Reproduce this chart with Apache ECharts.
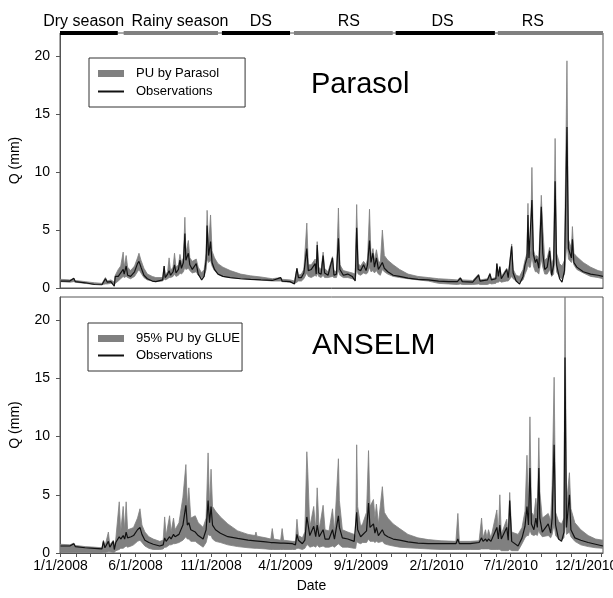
<!DOCTYPE html>
<html><head><meta charset="utf-8">
<script src="https://cdn.jsdelivr.net/npm/echarts@6/dist/echarts.min.js"></script>
<style>html,body{margin:0;padding:0;background:#fff}#c{width:613px;height:598px}</style>
</head><body><div id="c"></div>
<script>
// ---------- data ----------
const seasonNames = ['Dry season','Rainy season','DS','RS','DS','RS'];
const seasonKinds = ['dry','rainy','dry','rainy','dry','rainy'];
const seasonStart = ['2007-12-31','2008-05-08','2008-11-23','2009-04-18','2009-11-10','2010-06-05'];
const seasonEnd   = ['2008-04-26','2008-11-15','2009-04-10','2009-11-04','2010-05-30','2011-01-04'];
const seasonLabelAt = ['2008-02-17','2008-08-30','2009-02-10','2009-08-07','2010-02-13','2010-08-15'];

const yTickValues = [0,5,10,15,20];
const xLabelDates = ['2008-01-01','2008-06-01','2008-11-01','2009-04-01','2009-09-01','2010-02-01','2010-07-01','2010-12-01'];

const parasolDates = [
'2008-01-01','2008-01-20','2008-01-28','2008-01-31','2008-02-20','2008-03-10','2008-03-25','2008-04-01','2008-04-05','2008-04-12',
'2008-04-19','2008-04-21','2008-04-27','2008-05-02','2008-05-07','2008-05-09','2008-05-13','2008-05-16','2008-05-22','2008-05-30',
'2008-06-05','2008-06-08','2008-06-12','2008-06-18','2008-06-25','2008-07-05','2008-07-12','2008-07-26','2008-07-29','2008-07-31',
'2008-08-05','2008-08-08','2008-08-11','2008-08-16','2008-08-19','2008-08-22','2008-08-27','2008-08-30','2008-09-02','2008-09-06',
'2008-09-09','2008-09-11','2008-09-16','2008-09-19','2008-09-24','2008-10-02','2008-10-06','2008-10-13','2008-10-18','2008-10-22',
'2008-10-24','2008-10-27','2008-10-31','2008-11-03','2008-11-08','2008-11-15','2008-11-25','2008-12-10','2008-12-31','2009-01-20',
'2009-02-10','2009-03-05','2009-03-22','2009-03-25','2009-04-10','2009-04-19','2009-04-24','2009-04-27','2009-05-03','2009-05-08',
'2009-05-14','2009-05-17','2009-05-23','2009-05-31','2009-06-02','2009-06-04','2009-06-07','2009-06-12','2009-06-16','2009-06-19',
'2009-06-26','2009-07-05','2009-07-08','2009-07-13','2009-07-17','2009-07-20','2009-07-27','2009-08-05','2009-08-14','2009-08-20',
'2009-08-23','2009-08-26','2009-08-31','2009-09-06','2009-09-11','2009-09-14','2009-09-18','2009-09-21','2009-09-25','2009-09-28',
'2009-10-02','2009-10-06','2009-10-10','2009-10-14','2009-10-18','2009-10-25','2009-11-05','2009-11-18','2009-12-05','2009-12-25',
'2010-01-15','2010-02-05','2010-02-25','2010-03-15','2010-03-21','2010-03-25','2010-04-15','2010-04-27','2010-04-30','2010-05-15',
'2010-05-20','2010-05-23','2010-06-01','2010-06-03','2010-06-06','2010-06-09','2010-06-12','2010-06-23','2010-06-26','2010-07-03',
'2010-07-06','2010-07-12','2010-07-19','2010-07-26','2010-07-30','2010-08-03','2010-08-05','2010-08-07','2010-08-10','2010-08-13',
'2010-08-16','2010-08-20','2010-08-23','2010-08-27','2010-09-01','2010-09-04','2010-09-08','2010-09-13','2010-09-18','2010-09-22',
'2010-09-26','2010-09-29','2010-10-02','2010-10-08','2010-10-13','2010-10-18','2010-10-23','2010-10-26','2010-11-01','2010-11-03',
'2010-11-06','2010-11-12','2010-11-25','2010-12-10','2010-12-25','2011-01-04'];
const parasolLower = [
0.55,0.5,0.55,0.5,0.4,0.3,0.3,0.35,0.35,0.4,
0.3,0.4,0.6,0.8,1.0,0.9,1.0,0.9,0.8,1.0,
1.4,1.6,1.3,0.9,0.7,0.6,0.55,0.6,0.8,0.7,
0.8,0.9,0.9,1.0,1.2,1.0,1.1,1.3,1.2,1.4,
1.8,1.6,1.7,1.5,1.3,1.4,1.1,0.9,1.0,1.6,
2.5,2.2,2.4,1.9,1.5,1.2,1.0,0.9,0.8,0.75,
0.7,0.6,0.6,0.55,0.5,0.4,0.5,0.6,0.6,0.8,
1.3,1.0,0.9,1.1,1.0,1.3,1.0,0.9,1.1,0.9,
0.9,1.0,0.9,0.9,1.5,1.1,0.9,0.9,0.8,0.7,
1.6,1.2,1.1,1.3,1.2,1.3,1.8,1.4,1.5,1.3,
1.5,1.2,1.1,1.6,1.4,1.2,1.0,0.9,0.8,0.7,
0.6,0.4,0.35,0.3,0.35,0.3,0.3,0.35,0.3,0.3,
0.4,0.35,0.4,0.5,0.5,0.6,0.5,0.6,0.6,1.0,
0.8,0.6,0.5,0.7,1.2,1.6,2.2,1.8,1.8,2.8,
1.9,1.4,1.4,1.2,2.5,1.8,1.2,1.2,1.6,1.0,
1.2,3.0,1.4,0.9,0.8,1.2,4.0,2.5,2.2,2.6,
2.0,1.6,1.3,1.0,0.9,0.8];
const parasolUpper = [
0.75,0.7,0.8,0.65,0.55,0.45,0.4,0.9,0.6,0.7,
0.5,1.1,1.6,1.9,3.1,1.8,2.8,1.8,1.5,1.9,
2.6,3.0,2.4,1.7,1.2,1.0,0.9,0.9,1.9,1.1,
1.4,2.6,1.5,1.8,3.0,1.8,2.0,2.9,2.2,2.6,
6.1,3.0,4.1,2.6,2.3,2.5,1.8,1.3,1.6,3.0,
6.7,3.6,6.3,3.2,2.6,2.1,1.8,1.5,1.2,1.05,
0.95,0.8,0.9,0.75,0.7,0.6,1.7,1.1,1.2,1.6,
5.6,2.0,2.0,2.5,1.6,4.0,1.8,1.6,3.1,1.7,
1.4,2.7,1.5,1.4,6.9,2.0,1.5,1.4,1.3,1.2,
7.2,2.1,1.9,2.3,2.0,2.5,6.8,2.7,3.4,2.4,
3.3,2.3,2.2,5.0,2.8,2.4,2.0,1.6,1.2,1.0,
0.9,0.8,0.75,0.7,0.9,0.7,0.65,1.2,0.7,0.8,
1.3,0.8,0.9,2.1,1.2,1.9,1.0,1.7,1.1,3.8,
1.6,1.1,1.0,1.6,2.4,3.0,7.3,3.0,3.2,10.4,
3.3,2.7,2.8,2.5,8.0,5.2,2.4,2.6,3.5,2.0,
2.6,12.9,3.0,2.1,1.9,2.4,19.6,4.2,3.4,5.3,
3.0,2.7,2.2,1.8,1.5,1.4];
const parasolObs = [
0.6,0.6,0.85,0.55,0.45,0.3,0.28,0.8,0.5,0.55,
0.15,1.0,1.0,1.3,1.6,1.2,1.9,1.1,1.0,1.4,
2.1,2.3,1.8,1.1,0.8,0.6,0.55,0.7,1.9,0.9,
1.2,1.5,1.1,1.4,2.0,1.3,1.6,2.4,1.7,2.2,
4.7,2.4,3.0,2.0,1.6,2.1,1.2,0.7,1.0,2.4,
5.4,2.8,4.0,2.2,1.6,1.2,1.0,0.9,0.8,0.75,
0.7,0.65,0.9,0.6,0.55,0.35,1.7,0.9,0.9,1.3,
3.4,1.5,1.6,2.1,1.2,3.7,1.3,1.2,2.8,1.3,
1.1,2.6,1.1,1.2,4.3,1.6,1.1,1.2,1.0,0.6,
5.2,1.6,1.5,2.0,1.5,2.0,4.1,2.2,3.0,1.8,
2.6,1.6,1.5,2.2,1.7,1.4,1.1,1.0,0.85,0.75,
0.7,0.6,0.55,0.55,0.85,0.55,0.5,1.1,0.6,0.7,
1.2,0.7,0.8,2.1,1.0,1.8,0.8,1.6,0.9,3.6,
1.3,0.6,0.35,1.0,2.0,2.6,6.3,2.6,2.6,7.6,
2.9,2.2,2.5,1.7,7.0,3.0,1.6,1.8,3.2,1.1,
2.0,9.2,2.0,0.8,0.5,1.5,13.9,3.4,2.6,4.2,
2.2,1.8,1.4,1.2,1.1,1.0];

const anselmDates = [
'2008-01-01','2008-01-20','2008-01-28','2008-01-31','2008-02-20','2008-03-10','2008-03-25','2008-03-28','2008-03-31','2008-04-07',
'2008-04-10','2008-04-17','2008-04-19','2008-04-22','2008-04-29','2008-05-02','2008-05-07','2008-05-10','2008-05-13','2008-05-16',
'2008-05-23','2008-05-28','2008-06-05','2008-06-10','2008-06-14','2008-06-20','2008-06-28','2008-07-07','2008-07-20','2008-07-27',
'2008-07-30','2008-08-02','2008-08-09','2008-08-12','2008-08-17','2008-08-20','2008-08-28','2008-09-05','2008-09-11','2008-09-14',
'2008-09-17','2008-09-21','2008-09-30','2008-10-06','2008-10-16','2008-10-22','2008-10-26','2008-10-29','2008-11-01','2008-11-04',
'2008-11-10','2008-11-20','2008-12-05','2008-12-25','2009-01-15','2009-01-29','2009-01-31','2009-02-02','2009-02-20','2009-03-02',
'2009-03-05','2009-03-08','2009-03-22','2009-03-25','2009-03-28','2009-04-15','2009-04-21','2009-04-24','2009-04-27','2009-05-05',
'2009-05-10','2009-05-14','2009-05-16','2009-05-20','2009-05-28','2009-06-01','2009-06-04','2009-06-08','2009-06-16','2009-06-20',
'2009-06-28','2009-07-05','2009-07-09','2009-07-17','2009-07-19','2009-07-25','2009-08-05','2009-08-18','2009-08-21','2009-08-23',
'2009-08-25','2009-08-31','2009-09-04','2009-09-12','2009-09-16','2009-09-19','2009-09-26','2009-09-29','2009-10-02','2009-10-06',
'2009-10-14','2009-10-18','2009-10-25','2009-11-05','2009-11-18','2009-12-05','2009-12-25','2010-01-15','2010-02-10','2010-03-12',
'2010-03-16','2010-03-19','2010-04-10','2010-04-28','2010-05-03','2010-05-06','2010-05-11','2010-05-14','2010-05-17','2010-05-22',
'2010-06-03','2010-06-06','2010-06-09','2010-06-12','2010-06-23','2010-06-26','2010-06-29','2010-07-03','2010-07-16','2010-07-24',
'2010-07-30','2010-08-03','2010-08-06','2010-08-09','2010-08-12','2010-08-17','2010-08-21','2010-08-24','2010-08-27','2010-08-29',
'2010-09-03','2010-09-15','2010-09-20','2010-09-23','2010-09-27','2010-09-30','2010-10-06','2010-10-12','2010-10-17','2010-10-19',
'2010-10-22','2010-10-28','2010-10-31','2010-11-08','2010-11-20','2010-12-05','2010-12-20','2011-01-04'];
const anselmLower = [
0.05,0.05,0.05,0.05,0.05,0.0,0.0,0.05,0.05,0.1,
0.1,0.05,0.05,0.2,0.3,0.4,0.4,0.5,0.6,0.5,
0.6,0.7,1.0,1.1,0.9,0.6,0.4,0.3,0.3,0.35,
0.5,0.5,0.7,0.7,0.8,0.8,0.9,1.1,1.4,1.2,
1.2,1.0,1.0,0.8,0.5,0.9,1.6,1.5,1.5,1.2,
1.0,0.9,0.7,0.55,0.45,0.4,0.4,0.4,0.35,0.3,
0.3,0.3,0.3,0.3,0.3,0.3,0.3,0.4,0.4,0.3,
0.4,0.7,0.7,0.5,0.6,0.5,0.7,0.5,0.6,0.5,
0.5,0.6,0.5,0.8,0.7,0.5,0.5,0.4,0.4,1.0,
0.9,0.8,0.9,0.9,1.2,1.0,1.0,0.9,1.0,0.9,
1.0,0.8,0.7,0.6,0.5,0.45,0.4,0.35,0.3,0.3,
0.3,0.3,0.3,0.3,0.35,0.35,0.35,0.35,0.35,0.3,
0.3,0.3,0.3,0.2,0.2,0.2,0.3,0.2,0.2,0.8,
1.3,1.5,1.5,2.0,1.6,1.5,1.6,1.5,2.0,1.7,
1.4,1.5,1.3,1.6,2.5,1.5,1.2,1.1,1.3,3.0,
1.6,1.8,1.4,1.0,0.7,0.55,0.45,0.4];
const anselmUpper = [
0.75,0.7,0.85,0.65,0.55,0.5,0.45,1.1,0.55,1.8,
0.7,1.1,0.5,1.2,4.4,1.8,4.0,2.0,4.4,2.0,
2.1,2.2,3.0,3.8,2.4,1.8,1.4,1.2,1.0,1.1,
3.1,1.5,3.2,1.8,3.0,2.0,2.6,4.8,7.6,4.0,
5.6,3.0,3.2,2.6,2.2,3.0,8.6,4.0,7.2,4.0,
3.6,3.1,2.5,1.9,1.6,1.5,1.8,1.45,1.3,1.2,
2.1,1.2,1.1,2.1,1.1,1.0,1.0,2.9,1.5,1.3,
1.8,8.7,7.0,2.2,4.0,2.0,5.6,2.0,4.1,2.0,
1.9,3.8,1.8,8.1,4.5,2.0,1.8,1.6,1.5,9.3,
4.0,2.3,2.5,3.5,8.8,4.0,4.6,3.0,4.2,2.5,
5.7,3.5,3.0,2.5,2.1,1.6,1.3,1.15,1.05,1.0,
3.4,1.0,1.0,1.05,3.0,1.3,2.0,1.3,2.0,1.3,
3.7,1.6,5.0,1.6,2.9,1.6,5.2,1.8,1.6,2.2,
3.6,8.4,3.5,11.7,3.5,3.2,4.7,3.3,9.9,5.3,
3.0,3.4,2.8,5.8,15.1,3.5,2.7,2.5,3.0,23,
4.2,6.9,3.8,2.6,2.0,1.5,1.2,1.1];
const anselmObs = [
0.6,0.6,0.8,0.55,0.45,0.4,0.35,1.0,0.45,1.0,
0.5,1.0,0.3,0.9,1.4,1.2,1.5,1.2,1.8,1.3,
1.4,1.5,2.0,2.2,1.6,1.1,0.9,0.75,0.6,0.7,
1.3,1.0,1.4,1.2,1.6,1.4,1.6,2.4,4.1,2.4,
2.6,2.0,1.8,1.5,1.2,2.0,4.5,2.6,4.0,2.4,
2.0,1.7,1.4,1.25,1.1,1.05,1.0,1.0,0.95,0.9,
0.9,0.9,0.85,0.9,0.85,0.8,0.7,1.6,1.1,0.8,
1.1,3.1,2.6,1.5,2.3,1.4,2.4,1.4,2.0,1.2,
1.2,2.0,1.2,3.2,2.2,1.3,1.2,1.0,0.9,3.5,
2.0,1.4,1.5,1.9,4.3,2.2,2.5,1.7,2.2,1.5,
2.0,1.6,1.4,1.2,1.1,0.95,0.85,0.8,0.8,0.8,
1.2,0.8,0.8,0.9,1.3,1.0,1.2,1.0,1.2,1.0,
2.2,1.2,2.4,1.2,2.2,1.1,4.5,1.0,0.6,1.3,
2.3,4.0,2.4,7.3,2.5,2.0,3.0,2.2,7.3,3.0,
1.8,2.5,1.7,3.0,9.3,2.4,1.2,1.0,1.8,16.8,
2.2,5.0,2.0,1.3,1.1,0.9,0.75,0.6];

// ---------- chart ----------
const F = '"Liberation Sans", Arial, Helvetica, sans-serif';
const T = s => { const p = s.split('-').map(Number); return new Date(p[0], p[1]-1, p[2]).getTime(); };
const xMin = T('2007-12-31'), xMax = T('2011-01-04');
const monthTicks = [];
for (let y = 2008; y <= 2011; y++) for (let m = 0; m < 12; m++) {
  const t = new Date(y, m, 1).getTime();
  if (t >= xMin && t <= xMax) monthTicks.push(t);
}
const xLabelTs = xLabelDates.map(T);
const fmtDate = v => { const d = new Date(v); return (d.getMonth()+1) + '/' + d.getDate() + '/' + d.getFullYear(); };

const BAND = '#808080', OBS = '#111';
function bandSeries(dates, lo, up, name, idx) {
  return {
    type:'custom', name:name, xAxisIndex:idx, yAxisIndex:idx, z:2, silent:true,
    itemStyle:{color:BAND},
    data: dates.map((d,i)=>[T(d), lo[i], up[i]]),
    encode:{x:0, y:[1,2]},
    renderItem:function(params, api){
      if (params.dataIndexInside !== 0) return null;
      const n = params.dataInsideLength;
      const top = [], bot = [];
      for (let k = 0; k < n; k++) {
        top.push(api.coord([api.value(0,k), api.value(2,k)]));
        bot.push(api.coord([api.value(0,k), api.value(1,k)]));
      }
      const cs = params.coordSys;
      return {type:'polygon', shape:{points: top.concat(bot.reverse())},
        style:{fill:BAND, stroke:BAND, lineWidth:0.8},
        clipPath:{type:'rect', shape:{x:cs.x, y:cs.y, width:cs.width, height:cs.height}}};
    }
  };
}
function obsSeries(dates, obs, idx) {
  return { type:'line', name:'Observations', xAxisIndex:idx, yAxisIndex:idx,
    data: dates.map((d,i)=>[T(d), obs[i]]), symbol:'none', color:OBS,
    lineStyle:{color:OBS, width:1.2}, z:3, silent:true };
}

const yAxisCommon = {
  type:'value', min:0, max:22,
  axisLine:{show:true, lineStyle:{color:'#555'}},
  axisTick:{show:true, customValues:yTickValues, length:4, lineStyle:{color:'#555'}},
  axisLabel:{customValues:yTickValues, fontSize:14, color:'#000', margin:10, fontFamily:F},
  splitLine:{show:false},
  name:'Q (mm)', nameLocation:'middle', nameGap:38,
  nameTextStyle:{fontSize:14, color:'#000', fontFamily:F}
};

const legendCommon = {
  orient:'vertical', itemWidth:26, itemHeight:7, borderColor:'#333', borderWidth:1,
  selectedMode:false, backgroundColor:'#fff',
  textStyle:{fontSize:13, color:'#000', fontFamily:F, padding:[0,0,0,7]}
};

const option = {
  animation:false,
  backgroundColor:'#fff',
  title:[
    {text:'Parasol', left:311, top:70, padding:0, textStyle:{fontSize:29, fontWeight:'normal', color:'#000', fontFamily:F}},
    {text:'ANSELM', left:312, top:331, padding:0, textStyle:{fontSize:30, fontWeight:'normal', color:'#000', fontFamily:F}}
  ],
  legend:[
    Object.assign({}, legendCommon, {left:89, top:58, itemGap:5, padding:[9,26,9,8],
      data:[{name:'PU by Parasol', icon:'rect'}, {name:'Observations', itemStyle:{opacity:0}}]}),
    Object.assign({}, legendCommon, {left:88, top:323, itemGap:4, padding:[9,2,9,9],
      data:[{name:'95% PU by GLUE', icon:'rect'}, {name:'Observations', itemStyle:{opacity:0}}]})
  ],
  grid:[
    {left:60, width:543, top:33, height:255, show:true, borderColor:'#555', borderWidth:1, outerBoundsMode:'none', containLabel:false},
    {left:60, width:543, top:297, height:256, show:true, borderColor:'#555', borderWidth:1, outerBoundsMode:'none', containLabel:false},
    {left:60, width:543, top:31, height:4, outerBoundsMode:'none', containLabel:false}
  ],
  xAxis:[
    {gridIndex:0, type:'value', min:xMin, max:xMax, axisLine:{lineStyle:{color:'#555'}},
     axisTick:{show:false}, axisLabel:{show:false}, splitLine:{show:false}},
    {gridIndex:1, type:'value', min:xMin, max:xMax, axisLine:{lineStyle:{color:'#555'}},
     axisTick:{show:true, customValues:monthTicks, length:4, lineStyle:{color:'#555'}},
     axisLabel:{customValues:xLabelTs, formatter:fmtDate, fontSize:14, color:'#000', margin:6, fontFamily:F, hideOverlap:false},
     splitLine:{show:false},
     name:'Date', nameLocation:'middle', nameGap:26,
     nameTextStyle:{fontSize:14, color:'#000', fontFamily:F, padding:[0,40,0,0]}},
    {gridIndex:2, type:'value', min:xMin, max:xMax, show:false}
  ],
  yAxis:[
    Object.assign({gridIndex:0}, yAxisCommon),
    Object.assign({gridIndex:1}, yAxisCommon),
    {gridIndex:2, type:'value', min:0, max:1, show:false}
  ],
  series:[
    bandSeries(parasolDates, parasolLower, parasolUpper, 'PU by Parasol', 0),
    obsSeries(parasolDates, parasolObs, 0),
    bandSeries(anselmDates, anselmLower, anselmUpper, '95% PU by GLUE', 1),
    obsSeries(anselmDates, anselmObs, 1),
    { type:'custom', xAxisIndex:2, yAxisIndex:2, silent:true, z:5,
      data: seasonNames.map((n,i)=>[T(seasonStart[i]), T(seasonEnd[i]), T(seasonLabelAt[i]), i]),
      encode:{x:[0,1]},
      renderItem:function(params, api){
        const i = api.value(3);
        const p0 = api.coord([api.value(0), 1]);
        const p1 = api.coord([api.value(1), 0]);
        const pl = api.coord([api.value(2), 1]);
        return {type:'group', children:[
          {type:'rect', shape:{x:p0[0], y:p0[1], width:p1[0]-p0[0], height:p1[1]-p0[1]},
           style:{fill: seasonKinds[i]==='dry' ? '#000' : '#808080'}},
          {type:'text', x:pl[0], y:p0[1]-1,
           style:{text:seasonNames[i], textAlign:'center', textVerticalAlign:'bottom', fontSize:16, fontFamily:F, fill:'#000'}}
        ]};
      }
    }
  ]
};
const chart = echarts.init(document.getElementById('c'), null, {renderer:'canvas'});
chart.setOption(option);
</script>
</body></html>
